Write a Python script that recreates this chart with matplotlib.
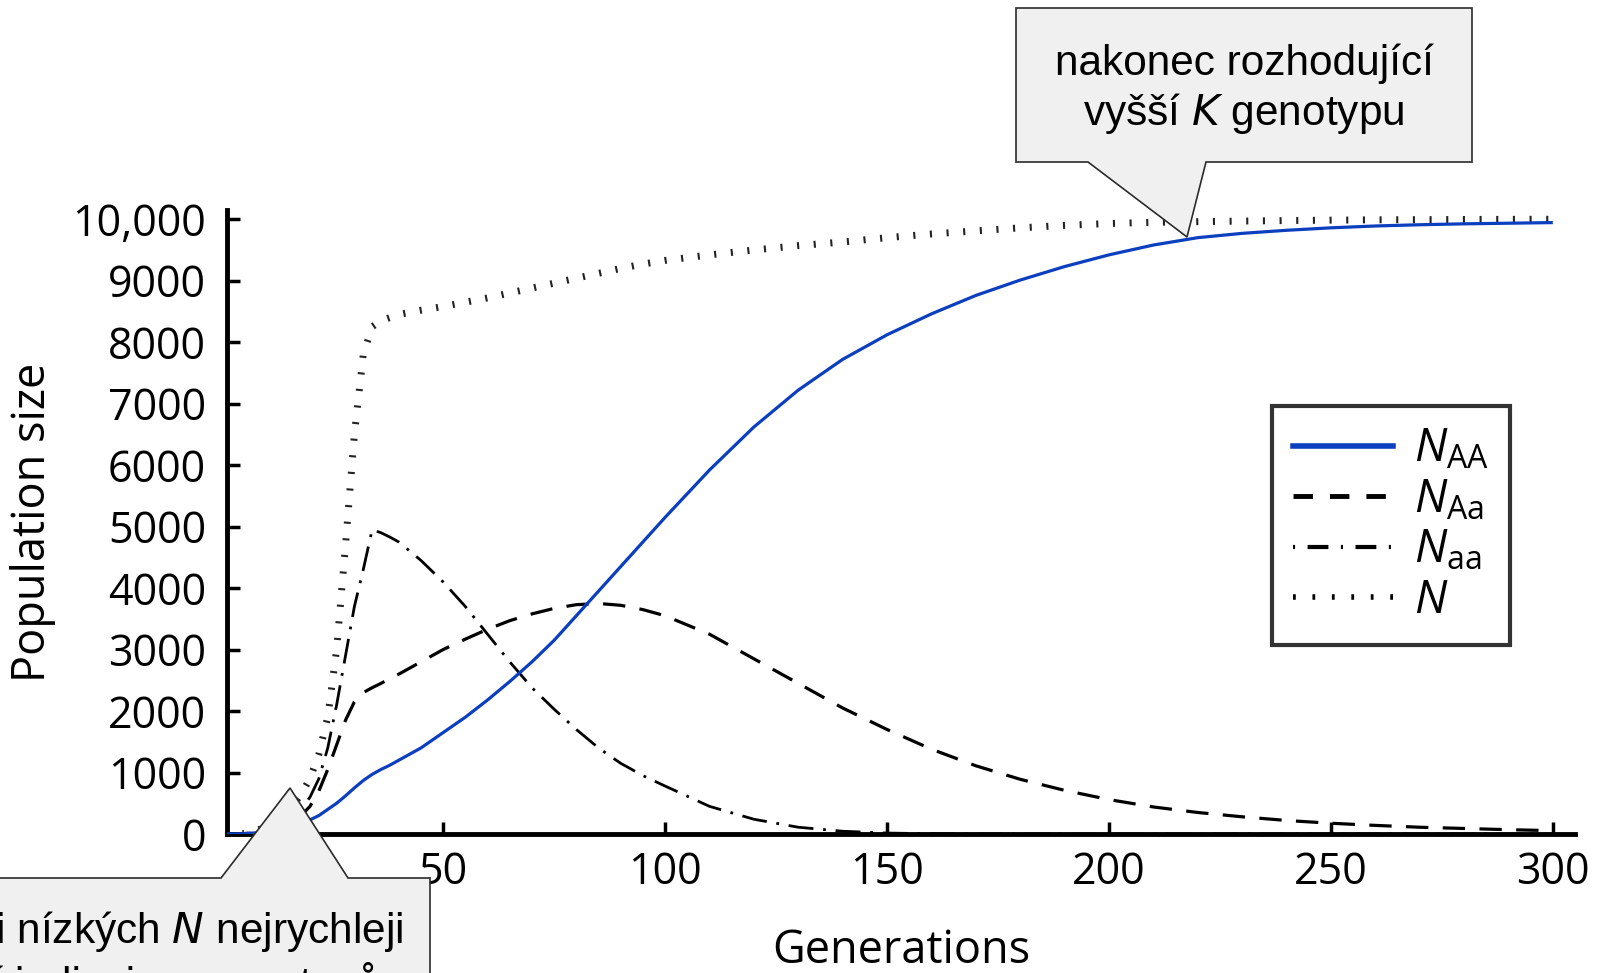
import matplotlib
matplotlib.use("Agg")
import matplotlib.pyplot as plt
from matplotlib.patches import Polygon
from matplotlib.lines import Line2D

# ---------------- data ----------------
gens = [1, 5, 10, 15, 18, 20, 22, 24, 26, 28, 30, 32, 34, 36, 38, 40, 45, 50, 55, 60,
        65, 70, 75, 80, 85, 90, 95, 100, 110, 120, 130, 140, 150, 160, 170, 180, 190,
        200, 210, 220, 230, 240, 250, 260, 270, 280, 290, 300]

n_AA = [0, 5, 30, 100, 170, 230, 300, 400, 500, 620, 750, 870, 970, 1050, 1120, 1200,
        1400, 1650, 1900, 2180, 2480, 2800, 3150, 3550, 3950, 4350, 4750, 5150, 5920,
        6620, 7220, 7720, 8120, 8460, 8760, 9010, 9230, 9420, 9580, 9700, 9770, 9820,
        9860, 9890, 9910, 9925, 9935, 9945]

n_Aa = [0, 5, 40, 150, 300, 450, 700, 1050, 1450, 1850, 2150, 2300, 2380, 2450, 2530,
        2600, 2800, 3000, 3170, 3330, 3470, 3580, 3670, 3730, 3750, 3720, 3650, 3550,
        3250, 2850, 2450, 2050, 1700, 1380, 1110, 890, 710, 560, 440, 350, 280, 220,
        175, 140, 110, 90, 70, 55]

n_aa = [0, 5, 40, 200, 400, 600, 900, 1400, 2100, 2900, 3700, 4300, 4950, 4900, 4830,
        4750, 4450, 4100, 3700, 3250, 2800, 2380, 2030, 1700, 1400, 1150, 950, 780, 450,
        240, 110, 45, 15, 5, 0, 0, 0, 0, 0, 0, 0, 0, 0, 0, 0, 0, 0, 0]

n_total = [0, 10, 100, 350, 650, 900, 1300, 1900, 3000, 4700, 6500, 7800, 8250, 8350,
           8400, 8450, 8520, 8580, 8650, 8720, 8800, 8880, 8960, 9040, 9120, 9200, 9270,
           9330, 9420, 9500, 9570, 9630, 9700, 9760, 9810, 9860, 9900, 9930, 9950, 9960,
           9970, 9978, 9985, 9990, 9993, 9996, 9998, 10000]

x_ticks = [50, 100, 150, 200, 250, 300]
y_ticks = [0, 1000, 2000, 3000, 4000, 5000, 6000, 7000, 8000, 9000, 10000]
y_ticklabels = ["0", "1000", "2000", "3000", "4000", "5000", "6000", "7000", "8000",
                "9000", "10,000"]
legend_labels = [r"$N_{\mathrm{AA}}$", r"$N_{\mathrm{Aa}}$", r"$N_{\mathrm{aa}}$", r"$N$"]

# ---------------- style ----------------
plt.rcParams["font.family"] = ["Open Sans", "DejaVu Sans"]
plt.rcParams["mathtext.fontset"] = "custom"
plt.rcParams["mathtext.rm"] = "Open Sans"
plt.rcParams["mathtext.it"] = "Open Sans:italic"

W, H = 1605, 973
fig = plt.figure(figsize=(W / 100, H / 100), dpi=100)


def fx(px):
    return px / W


def fy(py):
    return 1 - py / H


ax = fig.add_axes([fx(227), fy(834), fx(1575) - fx(227), fy(210) - fy(834)])

blue = "#0b3fbf"
ax.plot(gens, n_AA, color=blue, lw=2.3, solid_capstyle="butt", zorder=4)
ax.plot(gens, n_Aa, color="black", lw=2.3, linestyle=(0, (7, 4.5)), zorder=3)
ax.plot(gens, n_aa, color="black", lw=2.0, linestyle=(0, (9, 3.5, 1, 3.5)), zorder=3)
ax.plot(gens, n_total, color="#222222", lw=5.0, linestyle=(0, (0.3, 2.1)),
        dash_capstyle="butt", zorder=2)

ax.set_xlim(1.3, 305)
ax.set_ylim(0, 10150)
for s in ["top", "right"]:
    ax.spines[s].set_visible(False)
for s in ["left", "bottom"]:
    ax.spines[s].set_linewidth(3.5)
ax.set_xticks(x_ticks)
ax.set_yticks(y_ticks)
ax.set_yticklabels(y_ticklabels)
ax.tick_params(axis="both", direction="in", length=9, width=2.5, labelsize=31)
ax.tick_params(axis="y", pad=15)
ax.tick_params(axis="x", pad=12)

ax.set_xlabel("Generations", fontsize=32.5, labelpad=24)
ax.set_ylabel("Population size", fontsize=32.5, labelpad=12)

handles = [
    Line2D([], [], color=blue, lw=4),
    Line2D([], [], color="black", lw=3.5, linestyle=(0, (4, 3.5))),
    Line2D([], [], color="black", lw=3, linestyle=(0, (0.5, 3, 5, 3))),
    Line2D([], [], color="black", lw=4, linestyle=(0, (0.5, 3))),
]
leg = fig.legend(handles, legend_labels, loc="upper left",
                 bbox_to_anchor=(fx(1272), fy(406)), bbox_transform=fig.transFigure,
                 borderaxespad=0, fontsize=33, frameon=True, fancybox=False,
                 handlelength=2.2, handletextpad=0.45, labelspacing=0.1,
                 borderpad=0.45)
leg.get_frame().set_edgecolor("black")
leg.get_frame().set_linewidth(3)
leg.set_zorder(6)

# ---------------- callouts ----------------
box_fc = "#f0f0f0"
box_ec = "#2b2b2b"


def callout(pts):
    poly = Polygon([(fx(x), fy(y)) for x, y in pts], closed=True,
                   transform=fig.transFigure, facecolor=box_fc, edgecolor=box_ec,
                   lw=1.2, zorder=10)
    fig.add_artist(poly)


# top-right callout
callout([(1016, 8), (1472, 8), (1472, 162), (1206, 162), (1187, 237), (1088, 162),
         (1016, 162)])
fig.text(fx(1244), fy(64), "nakonec rozhodující", fontsize=30.5,
         family=["Liberation Sans", "DejaVu Sans"], ha="center", va="center", zorder=11)
fig.text(fx(1244), fy(114), "vyšší $\\mathit{K}$ genotypu", fontsize=30.5,
         family=["Liberation Sans", "DejaVu Sans"], ha="center", va="center", zorder=11,
         math_fontfamily="dejavusans")

# bottom-left callout (cut off by figure border)
callout([(-20, 878), (221, 878), (290, 788), (348, 878), (430, 878), (430, 1000),
         (-20, 1000)])
fig.text(fx(403), fy(932), "Při nízkých $N$ nejrychleji", fontsize=30.5,
         family=["Liberation Sans", "DejaVu Sans"], ha="right", va="center",
         zorder=11, math_fontfamily="dejavusans")
fig.text(fx(380), fy(984), "přibývají jedinci aa genotypů", fontsize=30.5,
         family=["Liberation Sans", "DejaVu Sans"], ha="right", va="center", zorder=11)

# fragments of text cut by the top border
for xp, s in [(80, "AA"), (338, "Aa"), (573, "aa")]:
    fig.text(fx(xp), fy(3), s, fontsize=20, family=["Liberation Sans"], ha="left",
             va="bottom")

fig.savefig("out.png", dpi=100)
